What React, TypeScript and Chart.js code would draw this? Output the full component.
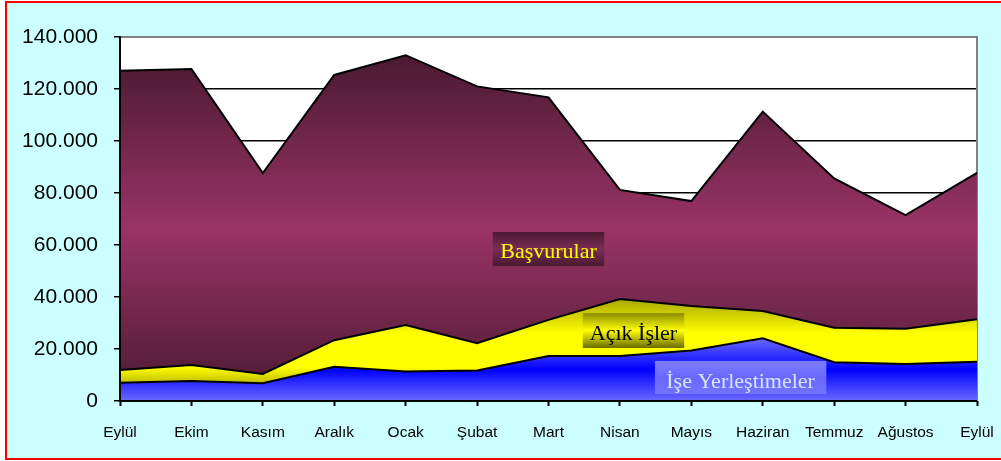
import React, { useEffect, useRef } from 'react';
import { Chart, registerables } from 'chart.js';

Chart.register(...registerables);

// ---- data ----
const months = ['Eylül', 'Ekim', 'Kasım', 'Aralık', 'Ocak', 'Şubat', 'Mart', 'Nisan', 'Mayıs', 'Haziran', 'Temmuz', 'Ağustos', 'Eylül'];
const basvurular = [127000, 127700, 87700, 125400, 133000, 121000, 116800, 81200, 76900, 111300, 85600, 71500, 87700];
const acikIsler = [11900, 13800, 10400, 23400, 29200, 22200, 31200, 39200, 36500, 34600, 28200, 27800, 31400];
const iseYerlestirmeler = [7000, 7700, 6800, 13200, 11300, 11700, 17300, 17300, 19400, 24100, 14900, 14200, 15100];
const yTickValues = [0, 20000, 40000, 60000, 80000, 100000, 120000, 140000];
const yTickLabels = ['0', '20.000', '40.000', '60.000', '80.000', '100.000', '120.000', '140.000'];
const seriesNames = ['İşe Yerleştimeler', 'Açık İşler', 'Başvurular'];

// ---- in-plot text boxes (x in category index units, y in axis values) ----
const textBoxes = [
  { text: seriesNames[2], x0: 5.22, x1: 6.78, yTop: 65000, yBot: 51900, base: 55000, color: '#ffff00', stops: ['#4a1a30', '#7a2c56', '#4a1a30'] },
  { text: seriesNames[1], x0: 6.48, x1: 7.90, yTop: 33850, yBot: 20400, base: 23460, color: '#000000', stops: ['#8c8c00', '#ffff00', '#6b6b00'] },
  { text: seriesNames[0], x0: 7.49, x1: 9.89, yTop: 15400, yBot: 2700, base: 5000, color: '#d6e4ff', stops: ['#7d7dff', '#6868ff', '#7373ff'] },
];

function areaGradient(chart: any, values: number[], stops: string[], fallback: string) {
  const area = chart.chartArea;
  const y = chart.scales?.y;
  if (!area || !y) return fallback;
  const top = y.getPixelForValue(Math.max(...values));
  const g = chart.ctx.createLinearGradient(0, top, 0, area.bottom);
  stops.forEach((c, i) => g.addColorStop(i / (stops.length - 1), c));
  return g;
}

const framePlugin = {
  id: 'frame',
  beforeDraw(chart: any) {
    const { ctx, chartArea: a } = chart;
    ctx.save();
    ctx.fillStyle = '#ffffff';
    ctx.fillRect(a.left, a.top, a.right - a.left, a.bottom - a.top);
    ctx.restore();
  },
  beforeDatasetsDraw(chart: any) {
    const { ctx, chartArea: a } = chart;
    ctx.save();
    ctx.strokeStyle = '#808080';
    ctx.lineWidth = 2;
    ctx.beginPath();
    ctx.moveTo(a.left, a.top);
    ctx.lineTo(a.right, a.top);
    ctx.lineTo(a.right, a.bottom);
    ctx.stroke();
    ctx.restore();
  },
  afterDatasetsDraw(chart: any) {
    const { ctx, chartArea: a, scales } = chart;
    ctx.save();
    ctx.strokeStyle = '#000000';
    ctx.lineWidth = 2;
    ctx.beginPath();
    ctx.moveTo(a.left, a.top - 1);
    ctx.lineTo(a.left, a.bottom);
    ctx.lineTo(a.right, a.bottom);
    ctx.stroke();

    const xs = scales.x;
    const ys = scales.y;
    for (const b of textBoxes) {
      const x0 = xs.getPixelForValue(b.x0);
      const x1 = xs.getPixelForValue(b.x1);
      const y0 = ys.getPixelForValue(b.yTop);
      const y1 = ys.getPixelForValue(b.yBot);
      const g = ctx.createLinearGradient(0, y0, 0, y1);
      b.stops.forEach((c, i) => g.addColorStop(i / (b.stops.length - 1), c));
      ctx.fillStyle = g;
      ctx.fillRect(x0, y0, x1 - x0, y1 - y0);
      ctx.fillStyle = b.color;
      ctx.font = '22px "Liberation Serif", "Times New Roman", serif';
      ctx.textAlign = 'center';
      ctx.textBaseline = 'alphabetic';
      ctx.fillText(b.text, (x0 + x1) / 2, ys.getPixelForValue(b.base));
    }
    ctx.restore();
  },
};

export default function App() {
  const ref = useRef<HTMLCanvasElement>(null);

  useEffect(() => {
    document.body.style.margin = '0';
    const canvas = ref.current;
    if (!canvas) return;
    const common = {
      fill: 'origin',
      borderColor: '#000000',
      borderWidth: 2,
      pointRadius: 0,
      pointHoverRadius: 0,
      tension: 0,
    };
    const chart = new Chart(canvas, {
      type: 'line',
      data: {
        labels: months,
        datasets: [
          {
            ...common,
            label: seriesNames[0],
            data: iseYerlestirmeler,
            backgroundColor: (c: any) => areaGradient(c.chart, iseYerlestirmeler, ['#6a6aff', '#0000ff', '#6a6aff'], '#3333ff'),
          },
          {
            ...common,
            label: seriesNames[1],
            data: acikIsler,
            backgroundColor: (c: any) => areaGradient(c.chart, acikIsler, ['#a8a800', '#ffff00', '#ffff00', '#7a7a00'], '#ffff00'),
          },
          {
            ...common,
            label: seriesNames[2],
            data: basvurular,
            backgroundColor: (c: any) => areaGradient(c.chart, basvurular, ['#4a1a30', '#993366', '#4a1a30'], '#993366'),
          },
        ] as any,
      },
      options: {
        responsive: false,
        animation: false,
        events: [],
        layout: { padding: { top: 37, right: 24, left: 0, bottom: 0 } },
        plugins: {
          legend: { display: false },
          tooltip: { enabled: false },
          title: { display: false },
        },
        scales: {
          x: {
            type: 'category',
            offset: false,
            border: { display: false },
            grid: { drawOnChartArea: false, drawTicks: true, tickLength: 5, tickColor: '#000000', tickWidth: 2 },
            ticks: {
              color: '#000000',
              font: { family: '"Liberation Sans", Arial, sans-serif', size: 15.5 },
              padding: 17,
              maxRotation: 0,
              autoSkip: false,
            },
            afterFit: (s: any) => {
              s.height = 60;
              s.paddingLeft = 0;
              s.paddingRight = 0;
            },
          },
          y: {
            min: 0,
            max: 140000,
            border: { display: false },
            grid: {
              color: (c: any) => (c.tick && c.tick.value === 140000 ? '#808080' : '#000000'),
              lineWidth: 1.5,
              tickColor: '#000000',
              tickLength: 6,
              tickWidth: 1.5,
            },
            ticks: {
              stepSize: 20000,
              color: '#000000',
              padding: 16,
              font: { family: '"Liberation Sans", Arial, sans-serif', size: 21 },
              callback: (v: any) => {
                const i = yTickValues.indexOf(Number(v));
                return i >= 0 ? yTickLabels[i] : '';
              },
            },
            afterFit: (s: any) => { s.width = 120; },
          },
        },
      },
      plugins: [framePlugin],
    });
    return () => chart.destroy();
  }, []);

  return (
    <div style={{ position: 'relative', width: 1001, height: 461, background: '#ffffff', overflow: 'hidden' }}>
      <div
        style={{
          position: 'absolute',
          left: 5,
          top: 1,
          width: 996,
          height: 455,
          background: '#ccffff',
          borderLeft: '2px solid #ff0000',
          borderTop: '2px solid #ff0000',
          borderBottom: '2px solid #ff0000',
        }}
      />
      <canvas ref={ref} width={1001} height={461} style={{ position: 'absolute', left: 0, top: 0 }} />
    </div>
  );
}
